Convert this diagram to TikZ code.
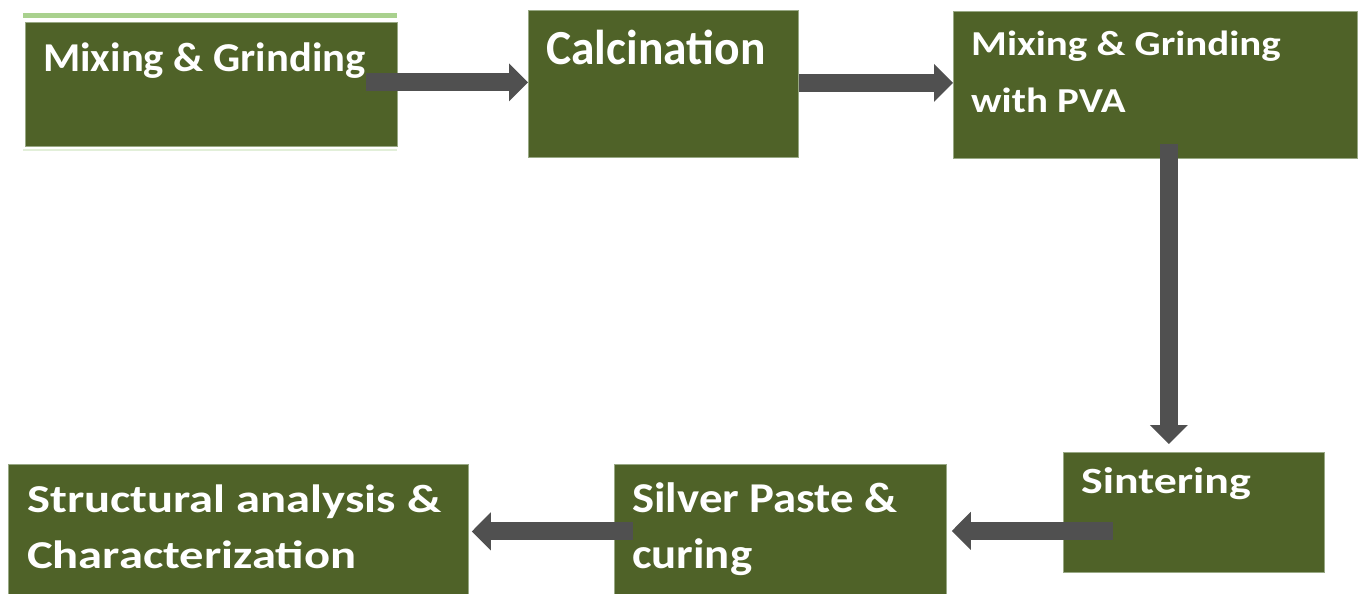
\documentclass[tikz,border=0pt]{standalone}
\usepackage{fontspec}
\setmainfont{Carlito}
\usepackage{tikz}
\usetikzlibrary{arrows.meta}

\definecolor{boxgreen}{HTML}{4F6228}
\definecolor{boxedge}{HTML}{98A884}
\definecolor{arrowgray}{HTML}{505050}
\definecolor{topband}{HTML}{A9D18E}
\definecolor{lowband}{HTML}{E2EFD9}

% size, line skip, horizontal stretch
\newcommand{\stepfont}[3]{\fontsize{#1}{#2}\selectfont\bfseries\addfontfeatures{FakeStretch=#3}}

\tikzset{
	box/.style={draw=boxedge, fill=boxgreen, line width=0.8pt, anchor=north west, inner sep=0pt},
	steptext/.style={text=white, anchor=base west, align=left, inner sep=0pt},
	flow/.style={draw=arrowgray, line width=18pt, -{Triangle[length=19pt,width=37pt]}},
}

\begin{document}
\begin{tikzpicture}[x=1pt,y=-1pt]
	\useasboundingbox (0,0) rectangle (1363,594);
	% first row
	\draw[topband, line width=5pt] (23,15.5) -- (397,15.5);
	\draw[lowband, line width=1.5pt] (23,150) -- (397,150);
	\node[box, minimum width=372pt, minimum height=124pt] (mixA) at (25,22) {};
	\node[box, minimum width=270pt, minimum height=147pt] (calc) at (528,10) {};
	\node[box, minimum width=404pt, minimum height=147pt] (mixB) at (953,11) {};
	% second row
	\node[box, minimum width=261pt, minimum height=120pt] (sinter) at (1063,452) {};
	\node[box, minimum width=332pt, minimum height=132pt] (silver) at (614,464) {};
	\node[box, minimum width=460pt, minimum height=132pt] (struct) at (8,464) {};
	% texts (base = last line)
	\node[steptext, font=\stepfont{41}{50}{1.04}] (mixAtxt) at (43,72) {Mixing \& Grinding};
	\node[steptext, font=\stepfont{49}{58}{0.97}] (calctxt) at (546,65) {Calcination};
	\node[steptext, font=\stepfont{35}{57}{1.17}] (mixBtxt) at (971,112) {Mixing \& Grinding\\with PVA};
	\node[steptext, font=\stepfont{37}{45}{1.24}] (sintertxt) at (1081,493) {Sintering};
	\node[steptext, font=\stepfont{42.5}{56}{1.10}] (silvertxt) at (632,568) {Silver Paste \&\\curing};
	\node[steptext, font=\stepfont{39.5}{56}{1.23}] (structtxt) at (27,568) {Structural analysis \&\\Characterization};
	% arrows
	\draw[flow] ([xshift=-32pt,yshift=2pt]mixA.east) -- ([yshift=2pt]mixA.east -| calc.west);
	\draw[flow] ([yshift=1pt]calc.east) -- ([yshift=1pt]calc.east -| mixB.west);
	\draw[flow] ([xshift=13.5pt,yshift=15pt]mixB.south) -- ([xshift=13.5pt,yshift=8pt]mixB.south |- sinter.north);
	\draw[flow] ([xshift=50pt,yshift=-18.5pt]sinter.west) -- ([xshift=5pt,yshift=-18.5pt]sinter.west -| silver.east);
	\draw[flow] ([xshift=19pt,yshift=-1pt]silver.west) -- ([xshift=3pt,yshift=-1pt]silver.west -| struct.east);
\end{tikzpicture}
\end{document}
